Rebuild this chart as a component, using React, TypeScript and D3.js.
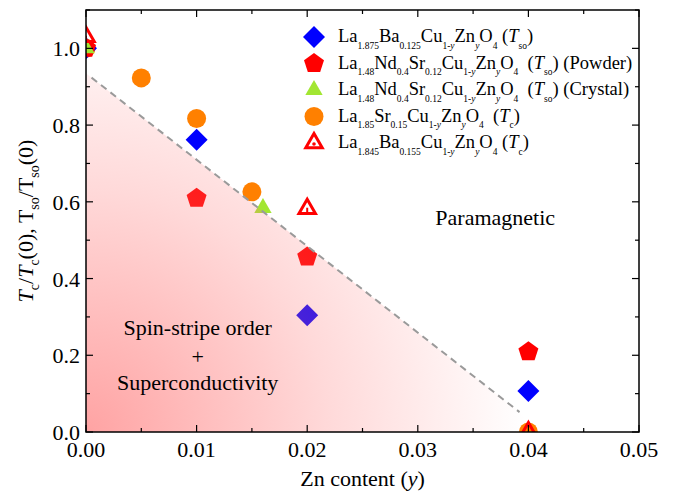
import React from 'react';
import * as d3 from 'd3';

// chart values
const blueX = [0, 0.01, 0.02, 0.04];
const blueY = [1.0, 0.762, 0.304, 0.107];
const pentX = [0, 0.01, 0.02, 0.04];
const pentY = [1.0, 0.609, 0.456, 0.209];
const greenX = [0, 0.016];
const greenY = [1.0, 0.584];
const orangeX = [0, 0.005, 0.01, 0.015, 0.04];
const orangeY = [1.0, 0.923, 0.817, 0.626, 0.0];
const openX = [0, 0.02, 0.04];
const openY = [1.03, 0.582, 0.0];

const xTicks = [0, 0.01, 0.02, 0.03, 0.04, 0.05];
const yTicks = [0, 0.2, 0.4, 0.6, 0.8, 1.0];
const boundaryX = [0, 0.0415];
const boundaryY = [0.935, 0];

type Seg = [string, string?];

const legendLabels: Seg[][] = [
  [['La'], ['1.875', 's'], ['Ba'], ['0.125', 's'], ['Cu'], ['1-', 's'], ['y', 'si'], ['Zn'], ['y', 'si'], ['O'], ['4', 's'], [' ('], ['T', 'i'], ['so', 's'], [')']],
  [['La'], ['1.48', 's'], ['Nd'], ['0.4', 's'], ['Sr'], ['0.12', 's'], ['Cu'], ['1-', 's'], ['y', 'si'], ['Zn'], ['y', 'si'], ['O'], ['4', 's'], ['  ('], ['T', 'i'], ['so', 's'], [')'], [' (Powder)', 'm']],
  [['La'], ['1.48', 's'], ['Nd'], ['0.4', 's'], ['Sr'], ['0.12', 's'], ['Cu'], ['1-', 's'], ['y', 'si'], ['Zn'], ['y', 'si'], ['O'], ['4', 's'], ['  ('], ['T', 'i'], ['so', 's'], [')'], [' (Crystal)', 'm']],
  [['La'], ['1.85', 's'], ['Sr'], ['0.15', 's'], ['Cu'], ['1-', 's'], ['y', 'si'], ['Zn'], ['y', 'si'], ['O'], ['4', 's'], ['  ('], ['T', 'i'], ['c', 's'], [')']],
  [['La'], ['1.845', 's'], ['Ba'], ['0.155', 's'], ['Cu'], ['1-', 's'], ['y', 'si'], ['Zn'], ['y', 'si'], ['O'], ['4', 's'], [' ('], ['T', 'i'], ['c', 's'], [')']],
];
const yTitle: Seg[] = [['T', 'i'], ['c', 's'], ['/'], ['T', 'i'], ['c', 's'], ['(0), T'], ['so', 's'], ['/T'], ['so', 's'], ['(0)']];

const W = 673;
const H = 492;
const M = {left: 86, right: 34, top: 10, bottom: 60};
const FONT = "'Liberation Serif', 'DejaVu Serif', serif";

const BLUE = '#0000ff';
const RED = '#ff0000';
const GREEN = '#a2e632';
const ORANGE = '#ff8000';

function diamond(r) {
  return `M0,${-r}L${r},0L0,${r}L${-r},0Z`;
}
function pentagon(r) {
  const pts = d3.range(5).map(k => {
    const a = -Math.PI / 2 + k * 2 * Math.PI / 5;
    return [r * Math.cos(a), r * Math.sin(a)];
  });
  return 'M' + pts.map(p => p.join(',')).join('L') + 'Z';
}
function triangle(r) {
  const pts = [0, 1, 2].map(k => {
    const a = -Math.PI / 2 + k * 2 * Math.PI / 3;
    return [r * Math.cos(a), r * Math.sin(a)];
  });
  return 'M' + pts.map(p => p.join(',')).join('L') + 'Z';
}

function Rich({segs, size, sub, drop}: {segs: Seg[]; size: number; sub: number; drop: number}) {
  let level = 0;
  return (
    <>
      {segs.map(([t, k], i) => {
        const isSub = k === 's' || k === 'si';
        const want = isSub ? drop : 0;
        const dy = want - level;
        level = want;
        return (
          <tspan key={i} dy={dy}
            fontSize={isSub ? sub : size}
            fontStyle={k === 'i' || k === 'si' ? 'italic' : 'normal'}
            style={{whiteSpace: 'pre'}}>
            {t}
          </tspan>
        );
      })}
    </>
  );
}

function Marker({kind, x, y, legend}: {kind: string; x: number; y: number; legend?: boolean}) {
  const t = `translate(${x},${y})`;
  if (kind === 'diamond') return <path transform={t} d={diamond(11)} fill={BLUE} />;
  if (kind === 'pent') return <path transform={t} d={pentagon(10.5)} fill={RED} />;
  if (kind === 'tri') return <path transform={t} d={triangle(10)} fill={GREEN} />;
  if (kind === 'circle') return <circle cx={x} cy={y} r={9.5} fill={ORANGE} />;
  return (
    <g transform={t}>
      <path d={triangle(9.5)} fill="none" stroke={RED} strokeWidth={3} strokeLinejoin="miter" />
      {legend
        ? <circle r={1.8} cy={1} fill={RED} />
        : <line x1={0} x2={0} y1={-1} y2={5} stroke={RED} strokeWidth={2} />}
    </g>
  );
}

export default function App() {
  const x = d3.scaleLinear().domain([0, 0.05]).range([M.left, W - M.right]);
  const y = d3.scaleLinear().domain([0, 1.1]).range([H - M.bottom, M.top]);
  const x0 = M.left, x1 = W - M.right, y0 = H - M.bottom, y1 = M.top;

  const xMinor = d3.range(0, 0.0501, 0.005);
  const yMinor = d3.range(0, 1.101, 0.1);

  const series = [
    {kind: 'circle', xs: orangeX, ys: orangeY},
    {kind: 'diamond', xs: blueX, ys: blueY},
    {kind: 'pent', xs: pentX, ys: pentY},
    {kind: 'tri', xs: greenX, ys: greenY},
    {kind: 'open', xs: openX, ys: openY},
  ];
  const legendKinds = ['diamond', 'pent', 'tri', 'circle', 'open'];

  const area = `M${x(0)},${y(0)}L${x(boundaryX[0])},${y(boundaryY[0])}L${x(boundaryX[1])},${y(boundaryY[1])}Z`;
  const lineStart = 0.0005, lineEnd = 0.0392;
  const lineAt = v => boundaryY[0] + (boundaryY[1] - boundaryY[0]) * (v - boundaryX[0]) / (boundaryX[1] - boundaryX[0]);

  return (
    <svg width={W} height={H} style={{position: 'absolute', left: 0, top: 0, display: 'block', fontFamily: FONT}}>
      <defs>
        <clipPath id="plot-clip">
          <rect x={x0} y={y1} width={x1 - x0} height={y0 - y1} />
        </clipPath>
        <radialGradient id="shade" gradientUnits="userSpaceOnUse" cx={x0} cy={y0} r={440}>
          <stop offset="0%" stopColor="#ff7878" stopOpacity={0.68} />
          <stop offset="55%" stopColor="#ff7878" stopOpacity={0.28} />
          <stop offset="100%" stopColor="#ff7878" stopOpacity={0} />
        </radialGradient>
      </defs>
      <rect width={W} height={H} fill="#fff" />

      <g clipPath="url(#plot-clip)">
        {series.map(s => s.xs.map((v, i) => (
          <Marker key={s.kind + i} kind={s.kind} x={x(v)} y={y(s.ys[i])} />
        )))}
        <path d={area} fill="url(#shade)" />
        <line x1={x(lineStart)} y1={y(lineAt(lineStart))} x2={x(lineEnd)} y2={y(lineAt(lineEnd))}
          stroke="#9a9a9a" strokeWidth={2} strokeDasharray="7,5" />
      </g>

      {/* frame and ticks */}
      <rect x={x0} y={y1} width={x1 - x0} height={y0 - y1} fill="none" stroke="#000" strokeWidth={1.5} />
      {xMinor.map((v, i) => {
        const len = i % 2 === 0 ? 7 : 4;
        return (
          <g key={'xt' + i} stroke="#000" strokeWidth={1.2}>
            <line x1={x(v)} x2={x(v)} y1={y0} y2={y0 - len} />
            <line x1={x(v)} x2={x(v)} y1={y1} y2={y1 + len} />
          </g>
        );
      })}
      {yMinor.map((v, i) => {
        const len = i % 2 === 0 ? 7 : 4;
        return (
          <g key={'yt' + i} stroke="#000" strokeWidth={1.2}>
            <line x1={x0} x2={x0 + len} y1={y(v)} y2={y(v)} />
            <line x1={x1} x2={x1 - len} y1={y(v)} y2={y(v)} />
          </g>
        );
      })}
      {xTicks.map(v => (
        <text key={'xl' + v} x={x(v)} y={y0 + 25} textAnchor="middle" fontSize={22}>{d3.format('.2f')(v)}</text>
      ))}
      {yTicks.map(v => (
        <text key={'yl' + v} x={x0 - 6} y={y(v) + 8} textAnchor="end" fontSize={22}>{d3.format('.1f')(v)}</text>
      ))}
      <text x={(x0 + x1) / 2} y={486} textAnchor="middle" fontSize={22}>
        Zn content (<tspan fontStyle="italic">y</tspan>)
      </text>
      <text transform={`translate(33,${(y0 + y1) / 2}) rotate(-90)`} textAnchor="middle" fontSize={22}>
        <Rich segs={yTitle} size={22} sub={14} drop={6} />
      </text>

      {/* region labels */}
      <text x={x(0.037)} y={y(0.54)} textAnchor="middle" fontSize={22}>Paramagnetic</text>
      <text x={x(0.0101)} y={y(0.253)} textAnchor="middle" fontSize={22}>Spin-stripe order</text>
      <text x={x(0.0101)} y={y(0.178)} textAnchor="middle" fontSize={22}>+</text>
      <text x={x(0.0101)} y={y(0.11)} textAnchor="middle" fontSize={22}>Superconductivity</text>

      {/* legend */}
      {legendLabels.map((segs, i) => {
        const cy = 37 + i * 26.5;
        return (
          <g key={'lg' + i}>
            <Marker kind={legendKinds[i]} x={314} y={cy} legend />
            <text x={338} y={cy + 5} fontSize={18.5}>
              <Rich segs={segs} size={18.5} sub={9.5} drop={6.5} />
            </text>
          </g>
        );
      })}
    </svg>
  );
}
